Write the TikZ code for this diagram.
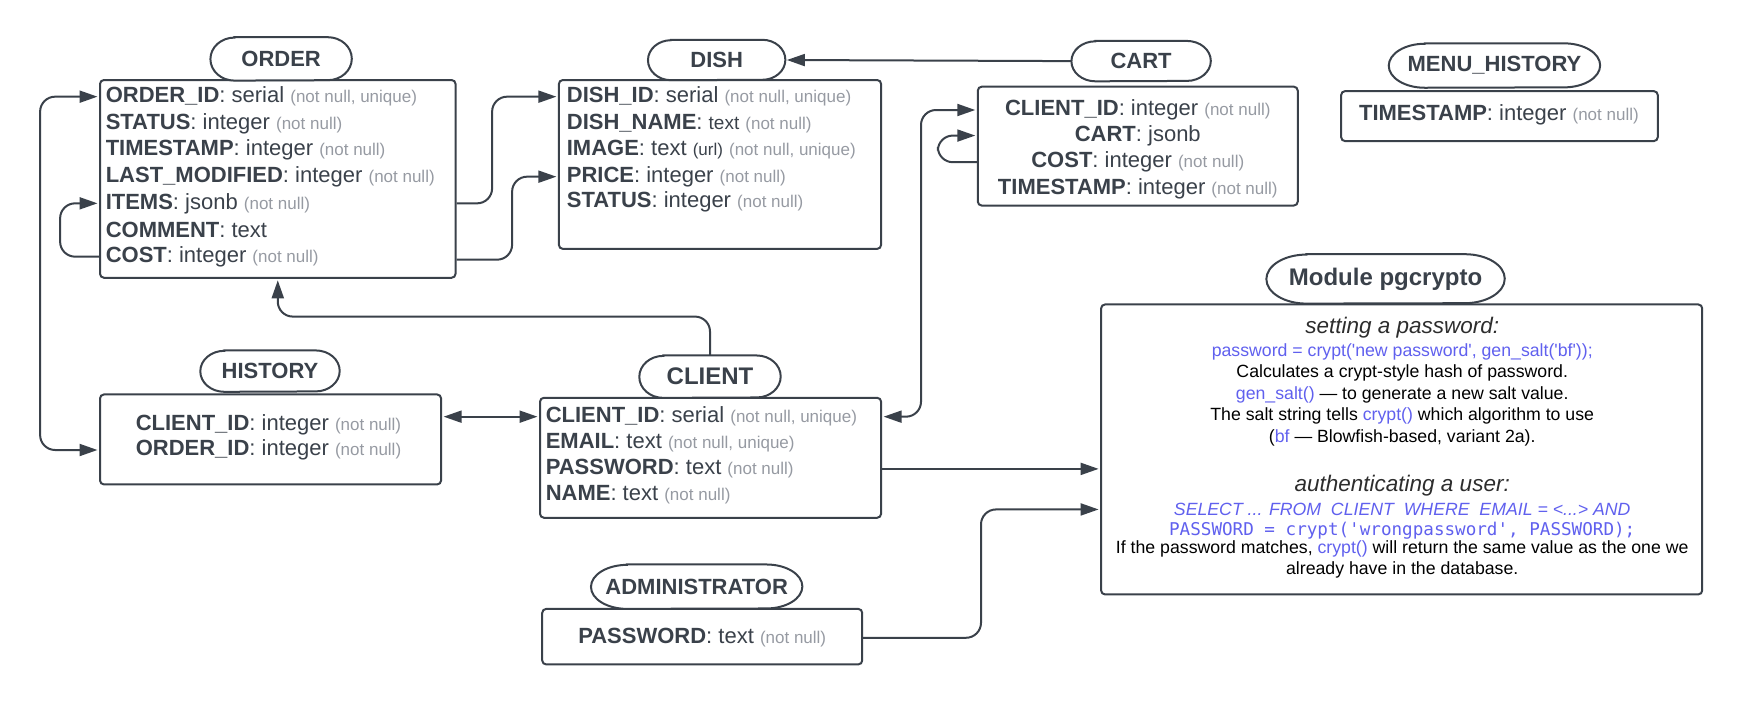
\documentclass[tikz,border=0pt]{standalone}
\usepackage{fontspec}
\setmainfont{Liberation Sans}
\newfontfamily\monof{DejaVu Sans Mono}
\usetikzlibrary{arrows.meta,fit}
\definecolor{ink}{RGB}{58,65,74}
\definecolor{nullgray}{RGB}{150,154,162}
\definecolor{codeblue}{RGB}{96,96,238}
\definecolor{hdr}{RGB}{45,45,45}
\newcommand\fnm[1]{\textbf{#1}}
\newcommand\nnl[1]{{\fontsize{17}{20}\selectfont\color{nullgray}#1}}
\newcommand\smalldark[1]{{\fontsize{17}{20}\selectfont #1}}
\newcommand\blu[1]{{\color{codeblue}#1}}
\newcommand\sq{\textquotesingle}
\pgfdeclarelayer{boxes}
\pgfdeclarelayer{pills}
\pgfsetlayers{boxes,pills,main}
% outline of a title pill with elliptical ends: node, x radius, y radius
\newcommand\pillpath[3]{%
 \begin{pgfonlayer}{pills}
 \draw[pillline] ([xshift=#2]#1.north west) -- ([xshift=-#2]#1.north east)
   arc[start angle=90,end angle=-90,x radius=#2,y radius=#3]
   -- ([xshift=#2]#1.south west)
   arc[start angle=270,end angle=90,x radius=#2,y radius=#3] -- cycle;
 \end{pgfonlayer}}
\begin{document}
\begin{tikzpicture}[x=1.1111pt,y=-1.1111pt,
 tbl/.style={draw=ink,line width=2pt,rounded corners=4pt,inner sep=0pt},
 pillline/.style={draw=ink,line width=2pt,fill=white},
 pill/.style={draw=none,rectangle,inner sep=0pt,text=ink,font=\bfseries\fontsize{22}{26}\selectfont},
 fld/.style={anchor=west,inner sep=0pt,text=ink,font=\fontsize{22}{26}\selectfont},
 fldc/.style={anchor=center,inner sep=0pt,text=ink,font=\fontsize{22}{26}\selectfont},
 pgt/.style={anchor=center,inner sep=0pt,text=black,font=\fontsize{17.7}{20}\selectfont},
 pgh/.style={anchor=center,inner sep=0pt,text=hdr,font=\itshape\fontsize{22.5}{26}\selectfont},
 tip/.tip={Triangle[length=18pt,width=12pt]},
 conn/.style={draw=ink,line width=2pt,rounded corners=15pt,-tip,shorten >=1.5pt},
 connb/.style={draw=ink,line width=2pt,rounded corners=15pt,tip-tip,shorten >=1.5pt,shorten <=1.5pt},
]
\useasboundingbox (0,0) rectangle (1566,634.5);

% ---- table boxes
\begin{pgfonlayer}{boxes}
\node[tbl,fit={(90,72)(410,250)}] (order) {};
\node[tbl,fit={(503,72)(793,224)}] (dish) {};
\node[tbl,fit={(880,78)(1168,185)}] (cart) {};
\node[tbl,fit={(1207,82)(1492,127)}] (menu) {};
\node[tbl,fit={(991,274)(1532,535)}] (pg) {};
\node[tbl,fit={(90,355)(397,436)}] (history) {};
\node[tbl,fit={(486,358)(793,466)}] (client) {};
\node[tbl,fit={(488,548)(776,598)}] (admin) {};
\end{pgfonlayer}

% ---- title pills
\node[pill,minimum width=141pt,minimum height=43pt] (orderT) at (253,53) {ORDER};
\pillpath{orderT}{24pt}{21.5pt}
\node[pill,minimum width=137pt,minimum height=40pt] (dishT) at (645,54) {DISH};
\pillpath{dishT}{23pt}{20pt}
\node[pill,minimum width=139pt,minimum height=40pt] (cartT) at (1027,55) {CART};
\pillpath{cartT}{24pt}{20pt}
\node[pill,minimum width=211pt,minimum height=44pt] (menuT) at (1345,59) {MENU\_HISTORY};
\pillpath{menuT}{36pt}{22pt}
\node[pill,minimum width=238pt,minimum height=49pt,font=\bfseries\fontsize{24}{28}\selectfont] (pgT) at (1247,251) {Module pgcrypto};
\pillpath{pgT}{40pt}{24.5pt}
\node[pill,minimum width=139pt,minimum height=41pt] (historyT) at (243,334) {HISTORY};
\pillpath{historyT}{24pt}{20.5pt}
\node[pill,minimum width=141pt,minimum height=42pt,font=\bfseries\fontsize{24}{28}\selectfont] (clientT) at (639,339) {CLIENT};
\pillpath{clientT}{24pt}{21pt}
\node[pill,minimum width=211pt,minimum height=44pt] (adminT) at (627,528) {ADMINISTRATOR};
\pillpath{adminT}{36pt}{22pt}

% ---- ORDER rows
\node[fld] (o1) at (95,87) {\fnm{ORDER\_ID}: serial \nnl{(not null, unique)}};
\node[fld] (o2) at (95,111) {\fnm{STATUS}: integer \nnl{(not null)}};
\node[fld] (o3) at (95,135) {\fnm{TIMESTAMP}: integer \nnl{(not null)}};
\node[fld] (o4) at (95,159) {\fnm{LAST\_MODIFIED}: integer \nnl{(not null)}};
\node[fld] (o5) at (95,183) {\fnm{ITEMS}: jsonb \nnl{(not null)}};
\node[fld] (o6) at (95,207) {\fnm{COMMENT}: text};
\node[fld] (o7) at (95,231) {\fnm{COST}: integer \nnl{(not null)}};

% ---- DISH rows
\node[fld] (d1) at (510,87) {\fnm{DISH\_ID}: serial \nnl{(not null, unique)}};
\node[fld] (d2) at (510,111) {\fnm{DISH\_NAME}: {\fontsize{19}{22}\selectfont text} \nnl{(not null)}};
\node[fld] (d3) at (510,135) {\fnm{IMAGE}: text \smalldark{(url)} \nnl{(not null, unique)}};
\node[fld] (d4) at (510,159) {\fnm{PRICE}: integer \nnl{(not null)}};
\node[fld] (d5) at (510,182) {\fnm{STATUS}: integer \nnl{(not null)}};

% ---- CART rows
\node[fldc] (k1) at (1024,99) {\fnm{CLIENT\_ID}: integer \nnl{(not null)}};
\node[fldc] (k2) at (1024,122) {\fnm{CART}: jsonb};
\node[fldc] (k3) at (1024,146) {\fnm{COST}: integer \nnl{(not null)}};
\node[fldc] (k4) at (1024,170) {\fnm{TIMESTAMP}: integer \nnl{(not null)}};

% ---- MENU_HISTORY row
\node[fldc] (m1) at (1349,103) {\fnm{TIMESTAMP}: integer \nnl{(not null)}};

% ---- HISTORY rows
\node[fld] (h1) at (122,382) {\fnm{CLIENT\_ID}: integer \nnl{(not null)}};
\node[fld] (h2) at (122,405) {\fnm{ORDER\_ID}: integer \nnl{(not null)}};

% ---- CLIENT rows
\node[fld] (c1) at (491,375) {\fnm{CLIENT\_ID}: serial \nnl{(not null, unique)}};
\node[fld] (c2) at (491,398) {\fnm{EMAIL}: text \nnl{(not null, unique)}};
\node[fld] (c3) at (491,422) {\fnm{PASSWORD}: text \nnl{(not null)}};
\node[fld] (c4) at (491,445) {\fnm{NAME}: text \nnl{(not null)}};

% ---- ADMINISTRATOR row
\node[fldc] (a1) at (632,574) {\fnm{PASSWORD}: text \nnl{(not null)}};

% ---- pgcrypto text
\node[pgh] (p1) at (1262,295) {setting a password:};
\node[pgt] (p2) at (1262,317) {\blu{password = crypt(\sq new password\sq, gen\_salt(\sq bf\sq));}};
\node[pgt] (p3) at (1262,336) {Calculates a crypt-style hash of password.};
\node[pgt] (p4) at (1262,355.5) {\blu{gen\_salt()} — to generate a new salt value.};
\node[pgt] (p5) at (1262,374) {The salt string tells \blu{crypt()} which algorithm to use};
\node[pgt] (p6) at (1262,394) {(\blu{bf} — Blowfish-based, variant 2a).};
\node[pgh] (p7) at (1262,437) {authenticating a user:};
\node[pgt] (p8) at (1262,458.5) {\blu{\itshape SELECT ... FROM\ \ CLIENT\ \ WHERE\ \ EMAIL = <...> AND}};
\node[pgt] (p9) at (1262,478) {\blu{\monof\fontsize{17.6}{20}\selectfont PASSWORD = crypt(\sq wrongpassword\sq, PASSWORD);}};
\node[pgt] (p10) at (1262,494) {If the password matches, \blu{crypt()} will return the same value as the one we};
\node[pgt] (p11) at (1262,512.5) {already have in the database.};

% ---- connectors
\draw[connb] (order.west |- o1) -- ++(-53,0) |- (history.west |- h2);
\draw[conn] (order.west |- o7) -- ++(-35,0) |- (order.west |- o5);
\draw[conn] (order.east |- o5) -- ++(32,0) |- (dish.west |- d1);
\draw[conn] ([yshift=-3pt]order.east |- o7) -- ++(50,0) |- (dish.west |- d4);
\draw[conn] (cartT.west) -- (dishT.east);
\draw[conn] (cart.west |- k3) -- ++(-35,0) |- (cart.west |- k2);
\draw[connb] (client.east |- c1) -- ++(35,0) |- (cart.west |- k1);
\draw[conn] (clientT.north) -- ++(0,-35) -| (order.south);
\draw[connb] (history.east |- c1) -- (client.west |- c1);
\draw[conn] (client.east |- c3) -- (pg.west |- c3);
\draw[conn] (admin.east |- a1) -- ++(106,0) |- (pg.west |- p8);
\end{tikzpicture}
\end{document}
